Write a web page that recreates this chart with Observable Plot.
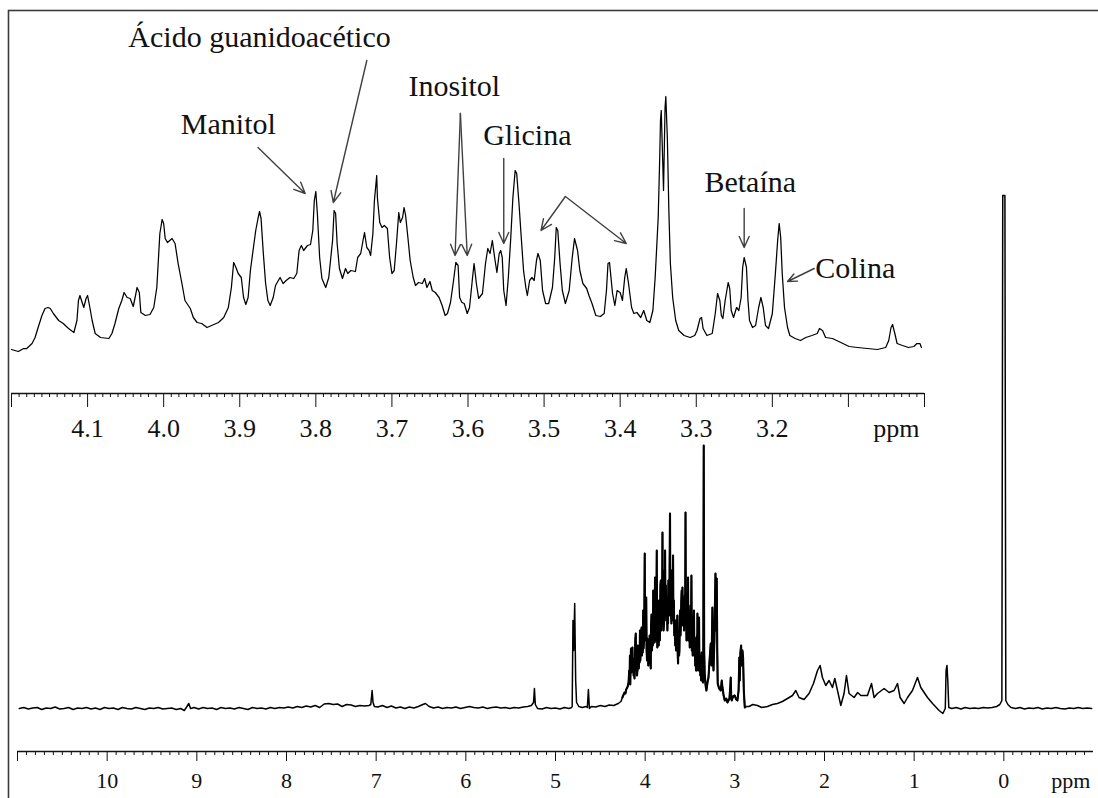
<!DOCTYPE html>
<html>
<head>
<meta charset="utf-8">
<script src="https://cdn.jsdelivr.net/npm/d3@7"></script>
<script src="https://cdn.jsdelivr.net/npm/@observablehq/plot@0.6"></script>
<style>
  html, body { margin: 0; padding: 0; background: #fff; overflow: hidden; }
  #chart { position: relative; width: 1098px; height: 798px; }
  #chart svg { position: absolute; left: 0; top: 0; }
  #chart svg text { font-family: 'Liberation Serif', 'Times New Roman', serif !important; }
</style>
</head>
<body>
<div id="chart"></div>
<script>
// Full 1H NMR spectrum: [chemical shift (ppm), intensity (a.u.)]
const fullSpectrum = [
  [10.98,2],[10.93,3],[10.88,1.5],[10.83,2.5],[10.78,3],[10.73,1],[10.68,2.5],[10.63,2],[10.58,3.5],[10.53,1.5],
  [10.48,2],[10.43,3],[10.38,1],[10.33,2.5],[10.28,2],[10.23,3],[10.18,1.5],[10.13,2.5],[10.08,1],[10.03,3],
  [9.98,2],[9.93,2.5],[9.88,1],[9.83,3],[9.78,2],[9.73,1.5],[9.68,3],[9.63,2],[9.58,1],[9.53,2.5],
  [9.48,2],[9.43,3],[9.38,1.5],[9.33,2],[9.28,2.5],[9.23,1],[9.18,2],[9.14,0],[9.11,4],[9.09,7],[9.07,2],
  [9.03,3],[8.98,1.5],[8.93,3],[8.88,2],[8.83,2.5],[8.78,1],[8.73,3],[8.68,2],[8.63,2.5],[8.58,1.5],
  [8.53,3],[8.48,2],[8.43,1],[8.38,3],[8.33,2],[8.28,2.5],[8.23,1.5],[8.18,3],[8.13,2],[8.08,3],
  [8.03,2.5],[7.98,3.5],[7.93,2.5],[7.88,4],[7.83,3],[7.78,4.5],[7.73,3.5],[7.68,5],[7.63,3],[7.58,6.5],
  [7.53,7],[7.48,6],[7.43,6.5],[7.38,4],[7.33,6],[7.28,5.5],[7.23,4],[7.18,5],[7.13,4.5],[7.08,5],
  [7.06,6],[7.045,20],[7.035,8],[7.02,4],[6.98,3.5],[6.93,5],[6.88,3],[6.83,4.5],[6.78,2.5],[6.73,3.5],
  [6.68,2],[6.63,3.5],[6.58,2.5],[6.53,4],[6.48,6],[6.45,7],[6.41,4],[6.36,2.5],[6.31,3.5],[6.26,2],
  [6.21,3],[6.16,2.5],[6.11,3.5],[6.06,2],[6.01,3],[5.96,4],[5.91,3],[5.86,2.5],[5.81,3.5],[5.76,2],
  [5.71,3],[5.66,3.5],[5.61,2.5],[5.56,3],[5.51,2],[5.46,3],[5.41,2.5],[5.36,3.5],[5.31,4],[5.27,5],
  [5.245,8],[5.235,22],[5.225,6],[5.20,2],[5.15,1.5],[5.10,3],[5.05,2],[5.00,2.5],[4.95,1.5],[4.90,3],
  [4.85,2],[4.82,3],[4.814,4],[4.805,90],[4.797,60],[4.786,107],[4.775,30],[4.765,8],[4.74,4],[4.70,3],
  [4.66,4],[4.645,3],[4.633,21],[4.622,2],[4.60,4],[4.55,3.5],[4.50,5],[4.45,4],[4.40,5.5],[4.35,5],
  [4.30,7],[4.27,9],
  // sugar / amino-acid envelope, 4.25–3.35 ppm
  [4.254,13],[4.240,16],[4.230,18],[4.220,17],[4.212,21],[4.205,22],[4.195,24],[4.185,28],[4.178,40],[4.174,30],
  [4.170,55],[4.166,26],[4.162,48],[4.158,62],[4.154,38],[4.150,45],[4.146,60],[4.142,63],[4.138,40],[4.133,50],
  [4.129,35],[4.124,52],[4.119,32],[4.115,45],[4.110,70],[4.105,77],[4.100,40],[4.096,55],[4.091,35],[4.086,40],
  [4.081,65],[4.076,62],[4.071,42],[4.066,55],[4.062,48],[4.058,80],[4.054,50],[4.050,60],[4.045,78],[4.040,83],
  [4.036,55],[4.031,75],[4.027,58],[4.022,100],[4.018,62],[4.013,70],[4.009,100],[4.005,157],[4.001,80],[3.996,95],
  [3.992,70],[3.988,113],[3.984,60],[3.979,50],[3.975,72],[3.970,58],[3.965,45],[3.960,68],[3.955,48],[3.950,75],
  [3.945,55],[3.941,47],[3.938,42],[3.934,85],[3.929,96],[3.924,60],[3.919,87],[3.915,65],[3.910,120],[3.905,75],
  [3.900,90],[3.895,68],[3.890,133],[3.885,80],[3.880,105],[3.876,70],[3.871,160],[3.867,75],[3.864,63],[3.860,95],
  [3.857,80],[3.853,100],[3.849,65],[3.845,110],[3.841,93],[3.837,70],[3.834,85],[3.830,125],[3.826,130],[3.821,80],
  [3.817,100],[3.812,85],[3.807,178],[3.803,90],[3.799,110],[3.795,80],[3.790,87],[3.787,120],[3.784,140],[3.781,90],
  [3.778,160],[3.773,95],[3.769,125],[3.764,100],[3.760,113],[3.756,95],[3.752,80],[3.748,110],[3.745,87],[3.741,130],
  [3.737,120],[3.733,95],[3.730,100],[3.727,150],[3.723,197],[3.719,105],[3.715,130],[3.711,95],[3.707,87],[3.703,140],
  [3.698,120],[3.694,95],[3.689,155],[3.685,90],[3.680,110],[3.675,75],[3.670,83],[3.665,65],[3.660,90],[3.655,60],
  [3.648,63],[3.644,85],[3.641,95],[3.637,55],[3.633,47],[3.629,70],[3.625,78],[3.621,55],[3.618,60],[3.614,90],
  [3.611,100],[3.606,75],[3.602,85],[3.597,110],[3.593,120],[3.589,85],[3.584,123],[3.580,95],[3.575,90],[3.571,110],
  [3.566,80],[3.562,100],[3.558,115],[3.554,90],[3.550,198],[3.546,85],[3.543,95],[3.539,70],[3.536,73],[3.532,100],
  [3.529,115],[3.525,80],[3.522,133],[3.517,70],[3.512,75],[3.508,95],[3.503,63],[3.498,90],[3.494,105],[3.489,70],
  [3.484,135],[3.480,60],[3.475,80],[3.470,55],[3.466,57],[3.461,85],[3.456,100],[3.451,55],[3.447,73],[3.442,45],
  [3.438,60],[3.433,40],[3.428,50],[3.425,40],[3.422,75],[3.419,45],[3.417,97],[3.413,50],[3.408,70],[3.404,40],
  [3.399,93],[3.395,45],[3.390,55],[3.385,35],[3.380,40],[3.375,30],[3.370,58],[3.365,32],[3.361,47],[3.356,28],
  [3.352,30],[3.347,265],[3.342,60],[3.336,37],[3.326,25],[3.317,20],[3.305,28],[3.294,33],[3.282,50],[3.269,67],
  [3.260,45],[3.250,103],[3.244,60],[3.238,40],[3.228,70],[3.216,137],[3.209,80],[3.202,132],[3.196,60],[3.191,27],
  [3.175,22],[3.157,20],[3.146,30],[3.138,23],[3.125,15],[3.112,10],[3.095,12],[3.082,8],[3.060,12],[3.050,25],
  [3.046,33],[3.040,12],[3.034,10],[3.020,14],[3.001,15],[2.985,11],[2.971,10],[2.958,20],[2.950,53],[2.945,30],
  [2.938,58],[2.930,65],[2.923,45],[2.915,60],[2.908,53],[2.900,20],[2.889,3],[2.870,4],
  [2.841,4],[2.80,6],[2.748,5],[2.70,3],[2.636,4],[2.58,6],[2.525,7],[2.47,9],[2.413,12],[2.357,15],
  [2.320,20],[2.284,13],[2.228,11],[2.172,17],[2.123,27],[2.078,40],[2.049,45],[2.023,33],[1.986,25],[1.949,30],
  [1.911,23],[1.885,32],[1.855,20],[1.818,5],[1.782,17],[1.755,35],[1.726,17],[1.670,13],[1.630,18],[1.595,15],
  [1.521,15],[1.476,27],[1.447,13],[1.409,17],[1.335,22],[1.280,18],[1.224,20],[1.186,27],[1.157,13],[1.112,7],
  [1.074,13],[1.019,20],[0.963,33],[0.926,23],[0.851,13],[0.795,7],[0.722,0],[0.680,-3],[0.653,2],[0.644,40],
  [0.634,45],[0.625,30],[0.614,3],[0.58,2],[0.53,3],[0.48,1.5],[0.43,3],[0.38,2],[0.33,2.5],[0.28,2],
  [0.23,3],[0.18,2.5],[0.13,3],[0.08,4],[0.045,6],[0.022,10],[0.012,515],[0.0,515],[-0.012,515],[-0.022,10],
  [-0.045,6],[-0.08,3],[-0.13,2],[-0.18,3],[-0.23,1.5],[-0.28,2.5],[-0.33,2],[-0.38,3],[-0.43,1.5],[-0.48,2.5],
  [-0.53,2],[-0.58,3],[-0.63,2],[-0.68,1.5],[-0.73,2.5],[-0.78,2],[-0.83,3],[-0.88,2],[-0.93,2.5],[-0.98,2]
];

// Expanded region 3.0–4.2 ppm: [chemical shift (ppm), intensity (a.u.)]
const expandedSpectrum = [
  [4.200,44],[4.191,42],[4.184,45],[4.180,45],[4.173,50],[4.169,56],[4.165,66],[4.160,78],[4.156,85],[4.152,86],
  [4.149,85],[4.145,80],[4.138,73],[4.132,70],[4.125,65],[4.118,61],[4.114,73],[4.112,93],[4.110,98],[4.108,93],
  [4.105,86],[4.102,95],[4.100,98],[4.097,86],[4.094,73],[4.090,60],[4.083,56],[4.072,55],[4.068,60],[4.064,70],
  [4.059,85],[4.055,93],[4.052,101],[4.048,96],[4.044,95],[4.040,87],[4.037,98],[4.035,106],[4.032,101],[4.030,81],
  [4.024,78],[4.018,79],[4.013,86],[4.009,106],[4.007,133],[4.005,160],[4.002,174],[4.000,170],[3.998,155],[3.995,151],
  [3.989,155],[3.985,150],[3.981,130],[3.976,110],[3.972,93],[3.965,85],[3.961,76],[3.956,71],[3.950,70],[3.943,66],
  [3.937,68],[3.928,71],[3.921,76],[3.915,86],[3.911,106],[3.908,131],[3.905,126],[3.902,120],[3.898,116],[3.895,96],
  [3.892,89],[3.889,96],[3.886,123],[3.882,146],[3.879,163],[3.876,175],[3.874,182],[3.872,175],[3.869,140],[3.866,110],
  [3.863,93],[3.860,88],[3.856,96],[3.853,108],[3.847,116],[3.843,110],[3.839,113],[3.834,116],[3.829,115],[3.825,120],
  [3.822,143],[3.819,148],[3.816,143],[3.811,148],[3.807,149],[3.804,163],[3.802,193],[3.800,202],[3.798,180],[3.795,136],
  [3.792,115],[3.787,106],[3.783,116],[3.778,153],[3.776,183],[3.774,180],[3.772,150],[3.769,125],[3.765,115],[3.761,125],
  [3.758,120],[3.754,123],[3.748,122],[3.745,136],[3.741,140],[3.738,153],[3.736,161],[3.733,146],[3.730,143],[3.728,138],
  [3.725,160],[3.723,193],[3.720,218],[3.719,195],[3.716,171],[3.713,166],[3.710,168],[3.706,165],[3.703,136],[3.700,120],
  [3.697,123],[3.694,150],[3.691,181],[3.689,171],[3.686,176],[3.684,186],[3.682,178],[3.679,156],[3.676,133],[3.672,116],
  [3.669,108],[3.665,111],[3.660,110],[3.657,115],[3.654,106],[3.650,112],[3.647,103],[3.643,101],[3.638,96],[3.634,88],
  [3.630,78],[3.627,80],[3.623,91],[3.619,113],[3.616,131],[3.613,128],[3.611,96],[3.608,91],[3.605,90],[3.601,80],
  [3.598,86],[3.594,116],[3.592,130],[3.589,110],[3.586,95],[3.581,100],[3.577,130],[3.574,145],[3.571,140],[3.568,153],
  [3.565,136],[3.562,121],[3.559,140],[3.557,143],[3.555,136],[3.553,103],[3.550,88],[3.547,116],[3.544,153],[3.541,196],
  [3.538,223],[3.536,220],[3.533,190],[3.530,156],[3.527,123],[3.524,106],[3.522,98],[3.519,113],[3.516,116],[3.513,113],
  [3.510,133],[3.508,140],[3.505,133],[3.502,103],[3.498,90],[3.494,90],[3.489,106],[3.486,136],[3.484,166],[3.482,163],
  [3.479,130],[3.476,103],[3.472,90],[3.467,103],[3.463,136],[3.460,155],[3.456,143],[3.453,123],[3.449,110],[3.444,105],
  [3.441,98],[3.437,90],[3.432,78],[3.426,77],[3.421,80],[3.418,103],[3.416,130],[3.414,131],[3.410,100],[3.407,88],
  [3.404,103],[3.400,101],[3.397,93],[3.394,116],[3.392,125],[3.389,110],[3.385,86],[3.382,80],[3.378,81],[3.373,76],
  [3.369,83],[3.365,73],[3.361,71],[3.357,83],[3.354,116],[3.350,176],[3.348,236],[3.347,273],[3.346,283],[3.344,230],
  [3.343,203],[3.341,286],[3.340,297],[3.338,256],[3.336,183],[3.334,130],[3.331,96],[3.327,73],[3.323,63],[3.316,58],
  [3.308,56],[3.302,58],[3.299,63],[3.295,75],[3.293,76],[3.291,65],[3.286,58],[3.279,60],[3.275,80],[3.272,100],
  [3.269,93],[3.267,78],[3.265,75],[3.262,93],[3.258,111],[3.256,105],[3.254,83],[3.251,76],[3.247,86],[3.244,83],
  [3.241,96],[3.239,126],[3.237,136],[3.234,126],[3.232,93],[3.230,73],[3.226,66],[3.222,68],[3.218,86],[3.215,96],
  [3.212,86],[3.209,68],[3.205,65],[3.200,80],[3.196,120],[3.193,153],[3.191,170],[3.189,156],[3.187,120],[3.184,86],
  [3.180,66],[3.177,58],[3.170,55],[3.163,53],[3.156,56],[3.148,58],[3.141,60],[3.138,65],[3.134,63],[3.130,56],
  [3.121,55],[3.110,51],[3.099,47],[3.088,46],[3.075,45],[3.062,44],[3.051,46],[3.047,53],[3.044,66],[3.042,69],
  [3.039,60],[3.036,50],[3.029,48],[3.021,46],[3.014,47],[3.010,50],[3.006,50],[3.004,46]
];

// Axis ticks
const fullMajorTicks = [11, 10, 9, 8, 7, 6, 5, 4, 3, 2, 1, 0];
const fullTickLabels = [10, 9, 8, 7, 6, 5, 4, 3, 2, 1, 0];
const expandedMajorTicks = [4.2, 4.1, 4.0, 3.9, 3.8, 3.7, 3.6, 3.5, 3.4, 3.3, 3.2, 3.1, 3.0];
const expandedTickLabels = [4.1, 4.0, 3.9, 3.8, 3.7, 3.6, 3.5, 3.4, 3.3, 3.2];

// Metabolite assignments in the expanded region (label centre, baseline)
const assignments = [
  {name: "Ácido guanidoacético", ppm: 3.874, v: 347},
  {name: "Manitol", ppm: 3.915, v: 260},
  {name: "Inositol", ppm: 3.618, v: 298},
  {name: "Glicina", ppm: 3.522, v: 249},
  {name: "Betaína", ppm: 3.229, v: 202},
  {name: "Colina", ppm: 3.091, v: 116}
];

// Pointers from each label to its signal
const pointers = [
  {ppm1: 3.876, v1: 246, ppm2: 3.814, v2: 200},   // Manitol
  {ppm1: 3.733, v1: 333, ppm2: 3.777, v2: 191},   // Ácido guanidoacético
  {ppm1: 3.610, v1: 280, ppm2: 3.617, v2: 138},   // Inositol
  {ppm1: 3.610, v1: 280, ppm2: 3.601, v2: 138},   // Inositol
  {ppm1: 3.553, v1: 235, ppm2: 3.553, v2: 150},   // Glicina
  {ppm1: 3.472, v1: 197, ppm2: 3.504, v2: 163},   // Glicina
  {ppm1: 3.472, v1: 197, ppm2: 3.392, v2: 150},   // Glicina
  {ppm1: 3.237, v1: 185, ppm2: 3.237, v2: 146},   // Betaína
  {ppm1: 3.145, v1: 125, ppm2: 3.180, v2: 112}    // Colina
];

const serif = "'Liberation Serif', 'Times New Roman', serif";
const ink = "#111";

const fullMinor = d3.range(-9, 110).filter(i => i % 10 !== 0).map(i => i / 10);
const expandedMinor = d3.range(300, 420).filter(i => i % 10 !== 0).map(i => i / 100);

// the crowded 4.25–2.88 ppm envelope is drawn with a heavier pen
const crowded = fullSpectrum.filter(d => d[0] <= 4.254 && d[0] >= 2.889);

// Full spectrum, 11 to -1 ppm
const full = Plot.plot({
  width: 1098,
  height: 798,
  marginLeft: 17,
  marginRight: 5,
  marginTop: 190,
  marginBottom: 47,
  style: {fontFamily: serif, background: "transparent", color: ink},
  x: {domain: [11, -1]},
  y: {domain: [-41, 520], axis: null},
  marks: [
    Plot.frame({stroke: "#3c3c3c", strokeWidth: 1.6, insetLeft: -9, insetTop: -180, insetRight: -20, insetBottom: -60}),
    Plot.ruleY([-41], {stroke: ink, strokeWidth: 1.3}),
    Plot.axisX({ticks: fullMinor, tickSize: 4, tickFormat: () => "", label: null, stroke: ink}),
    Plot.axisX({
      ticks: fullMajorTicks, tickSize: 10, tickPadding: 10.4, label: null, stroke: ink,
      fontSize: 22, fontFamily: serif,
      tickFormat: d => fullTickLabels.includes(d) ? String(d) : ""
    }),
    Plot.text(["ppm"], {x: -0.747, frameAnchor: "bottom", lineAnchor: "top", dy: 20.4, fontSize: 22, fill: ink}),
    Plot.line(fullSpectrum, {x: d => d[0], y: d => d[1], stroke: "#000", strokeWidth: 1.5}),
    Plot.line(crowded, {x: d => d[0], y: d => d[1], stroke: "#000", strokeWidth: 2.1})
  ]
});

// Expanded view, 4.2 to 3.0 ppm
const expanded = Plot.plot({
  width: 1098,
  height: 450,
  marginLeft: 11,
  marginRight: 174,
  marginTop: 0,
  marginBottom: 57,
  style: {fontFamily: serif, background: "transparent", color: ink, overflow: "visible"},
  x: {domain: [4.2, 3.0]},
  y: {domain: [0, 393], axis: null},
  marks: [
    Plot.ruleY([0], {stroke: ink, strokeWidth: 1.3}),
    Plot.axisX({ticks: expandedMinor, tickSize: 4, tickFormat: () => "", label: null, stroke: ink}),
    Plot.axisX({
      ticks: expandedMajorTicks, tickSize: 14, tickPadding: 11.5, label: null, stroke: ink,
      fontSize: 26, fontFamily: serif,
      tickFormat: d => expandedTickLabels.some(t => Math.abs(t - d) < 1e-9) ? d.toFixed(1) : ""
    }),
    Plot.text(["ppm"], {x: 3.037, frameAnchor: "bottom", lineAnchor: "top", dy: 25.5, fontSize: 26, fill: ink}),
    Plot.line(expandedSpectrum, {x: d => d[0], y: d => d[1], stroke: "#000", strokeWidth: 1.25}),
    Plot.arrow(pointers, {
      x1: "ppm1", y1: "v1", x2: "ppm2", y2: "v2",
      stroke: "#404040", strokeWidth: 1.4, headLength: 13, headAngle: 48
    }),
    Plot.text(assignments, {
      x: "ppm", y: "v", text: "name", textAnchor: "middle",
      lineAnchor: "bottom", fontSize: 30, fill: ink
    })
  ]
});

const chart = document.getElementById("chart");
chart.appendChild(full);
chart.appendChild(expanded);
</script>
</body>
</html>
